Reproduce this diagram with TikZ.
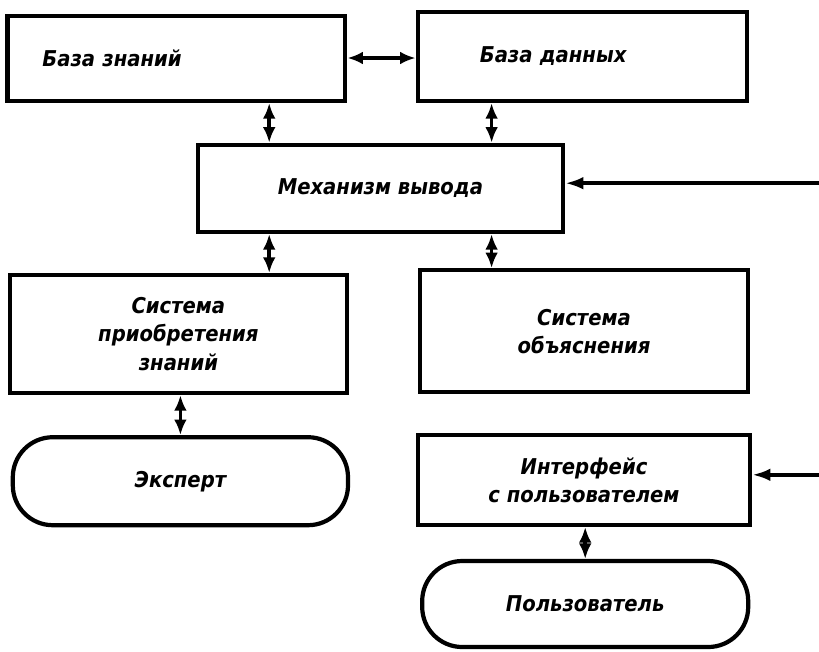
\documentclass[tikz,border=0pt]{standalone}
\usepackage{fontspec}
\newfontfamily\blockfont{DejaVu Sans Condensed Bold Oblique}
\usetikzlibrary{arrows.meta, positioning}

\begin{document}
\begin{tikzpicture}[
  block/.style={draw, line width=3pt, align=center, inner sep=0pt,
                font=\blockfont\fontsize{15.5}{20}\selectfont},
  term/.style={block, rounded corners=1cm},
  link/.style={{Latex[length=11pt, width=9pt]}-{Latex[length=11pt, width=9pt]}, line width=2.6pt},
  feed/.style={-{Latex[length=13pt, width=9pt]}, line width=2.6pt}
]
  \useasboundingbox (0,0) rectangle (20.475,-16.275);

  % Upper row
  \node[block, text width=6.7cm, inner xsep=0.87cm, align=left, minimum height=2.13cm]
    (kb) at (4.41,-1.46) {База знаний};
  \node[block, text width=5.13cm, inner xsep=1.55cm, align=left, minimum height=2.23cm]
    (db) at (14.56,-1.41) {База данных};

  % Inference engine
  \node[block, minimum width=9.13cm, minimum height=2.18cm] (mech) at (9.51,-4.71) {Механизм вывода};

  % Subsystems
  \node[block, minimum width=8.43cm, minimum height=2.95cm] (acq) at (4.46,-8.35)
    {Система\\приобретения\\знаний};
  \node[block, minimum width=8.2cm, minimum height=3.05cm] (expl) at (14.6,-8.28)
    {Система\\объяснения};

  % Lower row
  \node[term, minimum width=8.38cm, minimum height=2.2cm] (expert) at (4.51,-12.03) {Эксперт};
  \node[block, minimum width=8.3cm, minimum height=2.25cm] (iface) at (14.6,-12.0)
    {Интерфейс\\с пользователем};
  \node[term, minimum width=8.15cm, minimum height=2.15cm] (user) at (14.63,-15.1) {Пользователь};

  % Connections
  \coordinate (lcol) at ([xshift=-2.78cm]mech.north);
  \coordinate (rcol) at ([xshift=2.78cm]mech.north);
  \coordinate (in1) at (20.475,-4.58);
  \coordinate (in2) at (20.475,-11.87);

  \draw[link] (kb.east |- 0,-1.45) -- (db.west |- 0,-1.45);
  \draw[link] (lcol |- kb.south) -- (lcol);
  \draw[link] (rcol |- db.south) -- (rcol);
  \draw[link] (lcol |- mech.south) -- (lcol |- acq.north);
  \draw[link] (rcol |- mech.south) -- (rcol |- expl.north);
  \draw[link] (acq.south -| expert.north) -- (expert.north);
  \draw[link] (iface.south -| user.north) -- (user.north);

  % Incoming lines from the right
  \draw[feed] (in1) -- (in1 -| mech.east);
  \draw[feed] (in2) -- (in2 -| iface.east);

\end{tikzpicture}
\end{document}
